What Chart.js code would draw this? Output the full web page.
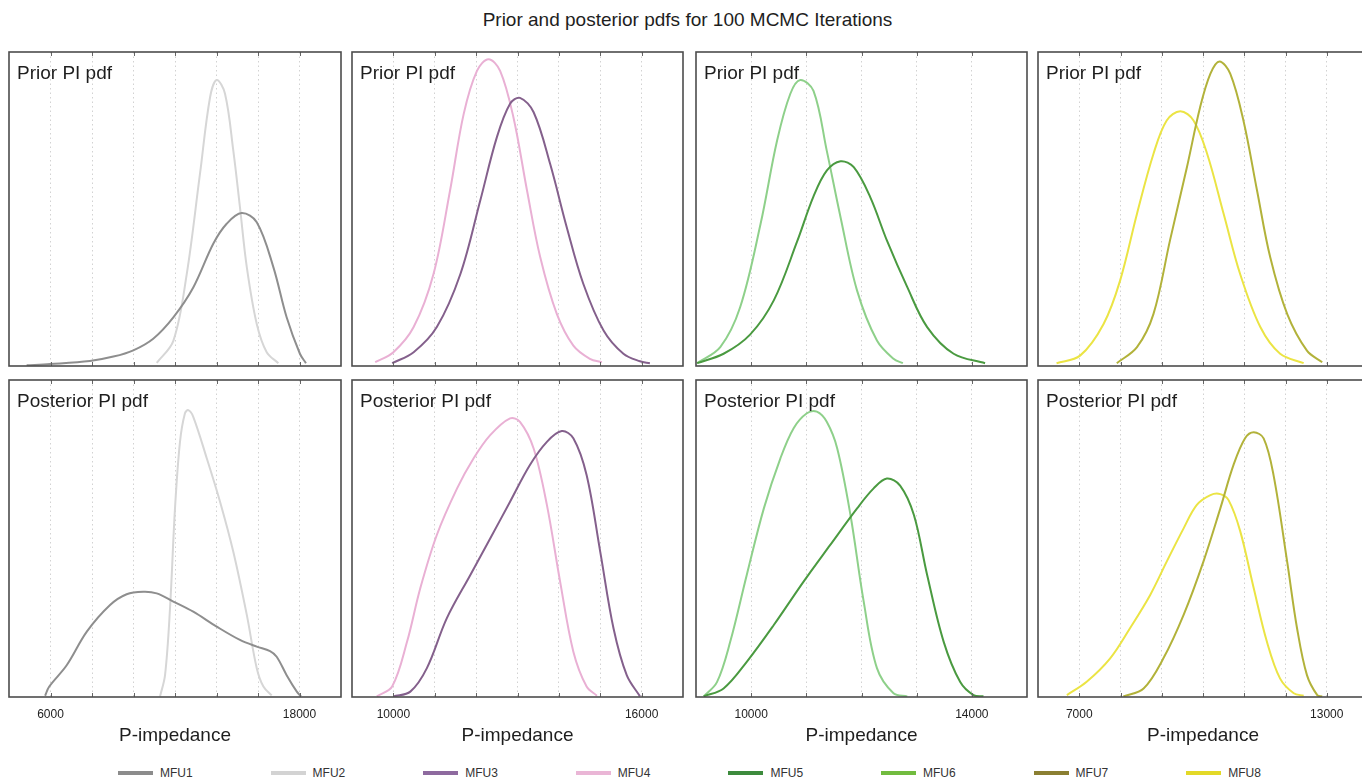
<!DOCTYPE html>
<html>
<head>
<meta charset="utf-8">
<script src="https://cdn.jsdelivr.net/npm/chart.js@4.4.1/dist/chart.umd.min.js"></script>
<style>
  html, body { margin:0; padding:0; background:#fff; overflow:hidden; width:1362px; height:782px; }
  body { position:relative; font-family:"Liberation Sans", Arial, Helvetica, sans-serif; color:#222; }
  canvas { position:absolute; }
  .lbl { position:absolute; font-size:19px; line-height:1; white-space:nowrap; color:#1e1e1e; z-index:2; }
  #title { position:absolute; left:480px; width:415px; top:9.5px; text-align:center; font-size:19px; line-height:1; white-space:nowrap; color:#1e1e1e; }
  .leg { position:absolute; top:766px; height:14px; font-size:12px; line-height:14px; color:#333; white-space:nowrap; }
  .leg i { display:inline-block; width:35px; height:4px; vertical-align:middle; margin-right:7px; position:relative; top:-1px; }
</style>
</head>
<body>
<div id="title"></div>
<div id="legend"></div>
<script>
// ---------------- DATA ----------------
const mainTitle = 'Prior and posterior pdfs for 100 MCMC Iterations';
const rowTitles = ['Prior PI pdf', 'Posterior PI pdf'];
const axisTitle = 'P-impedance';
const categories = ['MFU1', 'MFU2', 'MFU3', 'MFU4', 'MFU5', 'MFU6', 'MFU7', 'MFU8'];

// x-axis ranges, gridline ticks and tick labels per column
const col1Range = [4000, 20000];
const col1Ticks = [6000, 8000, 10000, 12000, 14000, 16000, 18000];
const col1Labels = ['6000', '', '', '', '', '', '18000'];
const col2Range = [9000, 17000];
const col2Ticks = [10000, 11000, 12000, 13000, 14000, 15000, 16000];
const col2Labels = ['10000', '', '', '', '', '', '16000'];
const col3Range = [9000, 15000];
const col3Ticks = [10000, 11000, 12000, 13000, 14000];
const col3Labels = ['10000', '', '', '', '14000'];
const col4Range = [6000, 14000];
const col4Ticks = [7000, 8000, 9000, 10000, 11000, 12000, 13000];
const col4Labels = ['7000', '', '', '', '', '', '13000'];

// pdf curves: [P-impedance, relative density]
const mfu1Prior = [[4850,0.002],[5980,0.006],[7900,0.016],[9030,0.03],[9990,0.05],[10950,0.087],[11920,0.155],[12880,0.25],[13850,0.39],[14490,0.453],[15210,0.487],[15940,0.458],[16740,0.315],[17380,0.155],[18020,0.039],[18310,0.009]];
const mfu2Prior = [[11120,0.01],[11920,0.08],[12560,0.29],[13200,0.61],[13690,0.856],[14010,0.911],[14410,0.867],[14810,0.686],[15130,0.506],[15460,0.315],[15940,0.134],[16420,0.044],[16980,0.009]];
const mfu1Post = [[5740,0.004],[5940,0.033],[6780,0.1],[7750,0.206],[8870,0.29],[9670,0.324],[10470,0.332],[11120,0.327],[11920,0.301],[12880,0.269],[14010,0.222],[15130,0.18],[15940,0.159],[16580,0.145],[16900,0.127],[17380,0.069],[17870,0.017],[18070,0.002]];
const mfu2Post = [[11280,0.002],[11520,0.069],[11760,0.28],[12000,0.595],[12240,0.805],[12480,0.895],[12640,0.905],[12880,0.884],[13530,0.753],[14170,0.616],[14810,0.458],[15460,0.259],[15940,0.091],[16260,0.033],[16660,0.005]];

const mfu3Prior = [[9970,0.009],[10490,0.044],[11050,0.124],[11620,0.293],[12100,0.527],[12500,0.728],[12820,0.835],[13060,0.854],[13390,0.808],[13790,0.643],[14190,0.442],[14590,0.262],[15080,0.113],[15560,0.039],[15960,0.015],[16200,0.009]];
const mfu4Prior = [[9560,0.012],[10000,0.044],[10490,0.124],[10970,0.293],[11370,0.559],[11700,0.803],[12020,0.94],[12300,0.977],[12580,0.94],[12900,0.793],[13230,0.559],[13550,0.346],[13950,0.166],[14350,0.065],[14750,0.023],[15040,0.012]];
const mfu3Post = [[10000,0.002],[10410,0.017],[10810,0.091],[11290,0.248],[11860,0.385],[12340,0.5],[12820,0.616],[13300,0.732],[13710,0.805],[14070,0.839],[14350,0.816],[14670,0.7],[15000,0.458],[15320,0.217],[15640,0.069],[15960,0.002]];
const mfu4Post = [[9600,0.002],[9970,0.033],[10330,0.174],[10650,0.343],[11050,0.511],[11540,0.658],[11940,0.753],[12340,0.826],[12820,0.879],[13060,0.868],[13390,0.784],[13710,0.606],[14030,0.364],[14350,0.143],[14670,0.033],[14920,0.004]];

const mfu5Prior = [[9020,0.009],[9500,0.039],[9980,0.1],[10410,0.209],[10830,0.395],[11130,0.54],[11370,0.622],[11620,0.652],[11860,0.633],[12160,0.537],[12460,0.4],[12830,0.251],[13190,0.124],[13670,0.039],[14240,0.009]];
const mfu6Prior = [[9020,0.009],[9440,0.06],[9800,0.187],[10170,0.452],[10470,0.718],[10710,0.867],[10890,0.911],[11130,0.876],[11370,0.686],[11620,0.474],[11920,0.24],[12280,0.081],[12580,0.023],[12750,0.009]];
const mfu5Post = [[9140,0.002],[9500,0.027],[9920,0.111],[10410,0.227],[10950,0.364],[11430,0.479],[11920,0.595],[12220,0.658],[12460,0.689],[12700,0.667],[12950,0.574],[13190,0.385],[13490,0.174],[13790,0.047],[14030,0.006],[14210,0.002]];
const mfu6Post = [[9140,0.002],[9380,0.047],[9620,0.174],[9920,0.385],[10230,0.595],[10530,0.753],[10770,0.848],[11010,0.895],[11190,0.9],[11370,0.868],[11560,0.784],[11800,0.574],[12040,0.301],[12280,0.091],[12580,0.012],[12830,0.002]];

const mfu7Prior = [[7910,0.009],[8400,0.06],[8800,0.166],[9200,0.4],[9610,0.633],[9930,0.824],[10180,0.931],[10400,0.97],[10660,0.931],[10980,0.782],[11310,0.559],[11630,0.346],[12040,0.166],[12520,0.049],[12890,0.012]];
const mfu8Prior = [[6450,0.009],[7020,0.033],[7590,0.134],[7990,0.272],[8400,0.485],[8800,0.676],[9120,0.782],[9450,0.811],[9770,0.782],[10100,0.676],[10500,0.485],[10900,0.293],[11390,0.124],[11870,0.039],[12440,0.009]];
const mfu7Post = [[8070,0.002],[8560,0.027],[9040,0.122],[9530,0.259],[10010,0.427],[10420,0.595],[10740,0.732],[11020,0.816],[11230,0.835],[11470,0.816],[11710,0.7],[12040,0.427],[12280,0.217],[12520,0.069],[12770,0.006],[12890,0.002]];
const mfu8Post = [[6700,0.006],[7180,0.048],[7750,0.122],[8230,0.217],[8720,0.322],[9120,0.427],[9530,0.532],[9850,0.606],[10180,0.637],[10420,0.64],[10620,0.621],[10900,0.524],[11230,0.343],[11550,0.174],[11870,0.058],[12200,0.012],[12440,0.004]];

// ---------------- STYLE / LAYOUT ----------------
const FONT = '"Liberation Sans", Arial, Helvetica, sans-serif';
const curveColors = ['#8e8e8e', '#d6d6d6', '#84608c', '#e9b0d4', '#4a9a40', '#8ed08a', '#b2b23a', '#ebe444'];
const legendColors = ['#8c8c8c', '#d3d3d3', '#8e6a9f', '#eab6d6', '#3d8b3d', '#72bc3f', '#8b7f32', '#e3d927'];
const colBoxes = [[9, 341], [352, 683], [696, 1027], [1038, 1368]];
const rowBoxes = [[52, 366], [380, 697]];

const columns = [
  { range: col1Range, ticks: col1Ticks, labels: col1Labels, prior: [[0, mfu1Prior], [1, mfu2Prior]], post: [[0, mfu1Post], [1, mfu2Post]] },
  { range: col2Range, ticks: col2Ticks, labels: col2Labels, prior: [[2, mfu3Prior], [3, mfu4Prior]], post: [[2, mfu3Post], [3, mfu4Post]] },
  { range: col3Range, ticks: col3Ticks, labels: col3Labels, prior: [[4, mfu5Prior], [5, mfu6Prior]], post: [[4, mfu5Post], [5, mfu6Post]] },
  { range: col4Range, ticks: col4Ticks, labels: col4Labels, prior: [[6, mfu7Prior], [7, mfu8Prior]], post: [[6, mfu7Post], [7, mfu8Post]] }
];

const framePlugin = {
  id: 'frame',
  afterDatasetsDraw(chart) {
    const { ctx, chartArea: a, scales: { x } } = chart;
    ctx.save();
    ctx.strokeStyle = '#666';
    ctx.lineWidth = 1;
    x.ticks.forEach(t => {
      const px = Math.round(x.getPixelForValue(t.value)) + 0.5;
      ctx.beginPath();
      ctx.moveTo(px, a.bottom); ctx.lineTo(px, a.bottom - 4);
      ctx.moveTo(px, a.top); ctx.lineTo(px, a.top + 4);
      ctx.stroke();
    });
    ctx.strokeStyle = '#4d4d4d';
    ctx.lineWidth = 1.6;
    ctx.strokeRect(a.left, a.top, a.right - a.left, a.bottom - a.top);
    ctx.restore();
  }
};

const PAD = 6, AXH = 62;

function makePanel(colIdx, rowIdx) {
  const colDef = columns[colIdx];
  const [left, right] = colBoxes[colIdx];
  const [top, bottom] = rowBoxes[rowIdx];
  const isBottom = rowIdx === 1;
  const w = right - left + 2 * PAD;
  const h = bottom - top + PAD + (isBottom ? AXH : PAD);
  const c = document.createElement('canvas');
  c.width = w; c.height = h;
  c.style.width = w + 'px'; c.style.height = h + 'px';
  c.style.left = (left - PAD) + 'px'; c.style.top = (top - PAD) + 'px';
  document.body.appendChild(c);

  const lbl = document.createElement('div');
  lbl.className = 'lbl';
  lbl.textContent = rowTitles[rowIdx];
  lbl.style.left = (left + 8) + 'px';
  lbl.style.top = (top + 11) + 'px';
  document.body.appendChild(lbl);

  const series = isBottom ? colDef.post : colDef.prior;
  new Chart(c, {
    type: 'line',
    data: {
      datasets: series.map(([idx, pts]) => ({
        label: categories[idx],
        data: pts.map(([x, y]) => ({ x, y })),
        borderColor: curveColors[idx],
        borderWidth: 2,
        pointRadius: 0,
        fill: false,
        tension: 0.35
      }))
    },
    options: {
      responsive: false,
      animation: false,
      devicePixelRatio: 1,
      layout: { padding: { left: PAD, right: PAD, top: PAD, bottom: isBottom ? 0 : PAD } },
      plugins: { legend: { display: false }, tooltip: { enabled: false }, title: { display: false } },
      scales: {
        x: {
          type: 'linear',
          min: colDef.range[0],
          max: colDef.range[1],
          offset: false,
          afterBuildTicks: s => { s.ticks = colDef.ticks.map(v => ({ value: v })); },
          afterFit: s => { s.height = isBottom ? AXH : 0; },
          grid: { display: true, drawTicks: false, color: '#d2d2d2', lineWidth: 1 },
          border: { display: false, dash: [1.5, 3] },
          ticks: {
            display: isBottom,
            autoSkip: false,
            maxRotation: 0,
            padding: 10,
            color: '#222',
            font: { family: FONT, size: 12 },
            callback: v => { const i = colDef.ticks.indexOf(v); return i >= 0 ? colDef.labels[i] : ''; }
          },
          title: {
            display: isBottom,
            text: axisTitle,
            color: '#1e1e1e',
            font: { family: FONT, size: 19 },
            padding: { top: 0, bottom: 12 }
          }
        },
        y: { display: false, min: 0, max: 1 }
      }
    },
    plugins: [framePlugin]
  });
}

document.getElementById('title').textContent = mainTitle;
for (let r = 0; r < 2; r++) for (let cI = 0; cI < 4; cI++) makePanel(cI, r);

const legendEl = document.getElementById('legend');
categories.forEach((name, i) => {
  const d = document.createElement('div');
  d.className = 'leg';
  d.style.left = (118 + i * 152.6) + 'px';
  const sw = document.createElement('i');
  sw.style.background = legendColors[i];
  d.appendChild(sw);
  d.appendChild(document.createTextNode(name));
  legendEl.appendChild(d);
});
</script>
</body>
</html>
